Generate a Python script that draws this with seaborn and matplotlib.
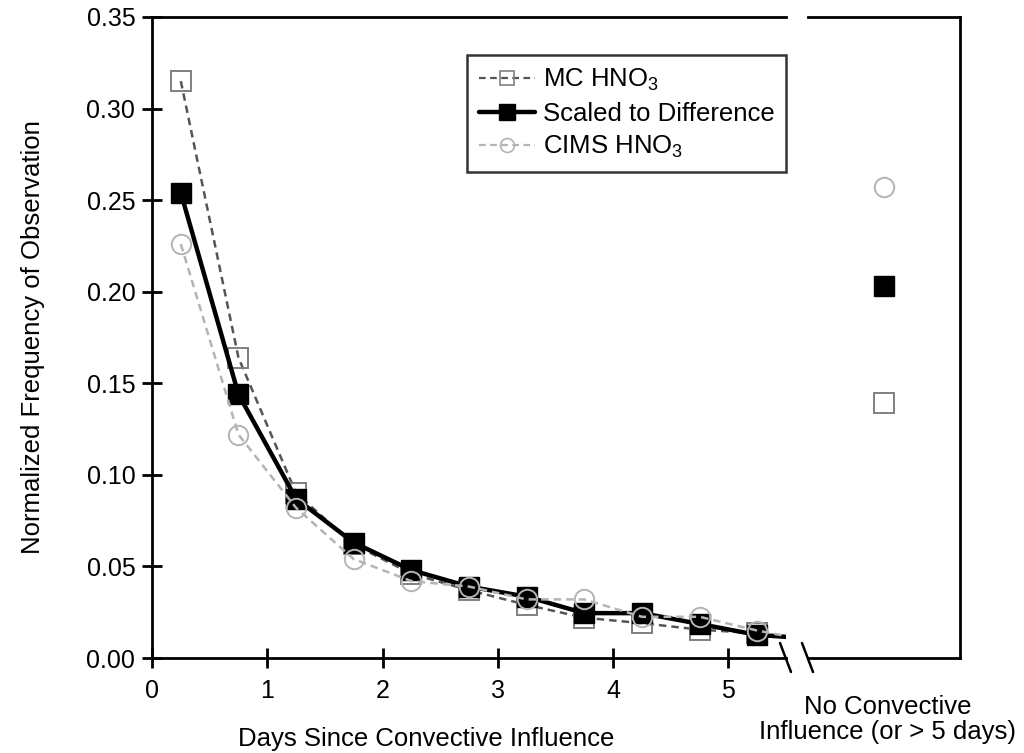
import numpy as np
import pandas as pd
import matplotlib
matplotlib.use("Agg")
import matplotlib.pyplot as plt
from matplotlib.lines import Line2D
import seaborn as sns

# Day bins (bin centres); the last bin lies beyond the plotted range
days = [0.25, 0.75, 1.25, 1.75, 2.25, 2.75, 3.25, 3.75, 4.25, 4.75, 5.25, 5.75]

mc_hno3 = [0.315, 0.164, 0.090, 0.062, 0.046, 0.037, 0.029, 0.022, 0.019, 0.0155, 0.0135, 0.0100]
scaled_diff = [0.254, 0.144, 0.087, 0.063, 0.048, 0.039, 0.0335, 0.0245, 0.0245, 0.0186, 0.0126, 0.0105]
cims_hno3 = [0.226, 0.122, 0.082, 0.054, 0.042, 0.039, 0.032, 0.032, 0.0225, 0.0225, 0.015, 0.0090]

# Air masses with no convective influence (or > 5 days)
nci_mc = 0.139
nci_scaled = 0.203
nci_cims = 0.257

y_ticks = [0.00, 0.05, 0.10, 0.15, 0.20, 0.25, 0.30, 0.35]
x_ticks = [0, 1, 2, 3, 4, 5]

sns.set_theme(style="white")
plt.rcParams["font.family"] = ["Liberation Sans", "DejaVu Sans"]
plt.rcParams["mathtext.fontset"] = "custom"
plt.rcParams["mathtext.rm"] = "Liberation Sans"
plt.rcParams["mathtext.it"] = "Liberation Sans"
plt.rcParams["mathtext.default"] = "regular"
plt.rcParams["text.color"] = "black"
plt.rcParams["axes.labelcolor"] = "black"

FS = 18.5

fig = plt.figure(figsize=(10.24, 7.53), dpi=100)
ax1 = fig.add_axes([152 / 1024, 1 - 658 / 753, (786 - 152) / 1024, (658 - 17) / 753])
ax2 = fig.add_axes([808 / 1024, 1 - 658 / 753, (960 - 808) / 1024, (658 - 17) / 753])

df = pd.DataFrame({"days": days, "mc": mc_hno3, "scaled": scaled_diff, "cims": cims_hno3})

mc_col, mc_line = "#808080", "#555555"
cims_col = "#b4b4b4"
ms = 14

sns.lineplot(data=df, x="days", y="mc", ax=ax1, color=mc_line, lw=1.8,
             linestyle=(0, (3, 2)), marker="s", markersize=ms,
             markerfacecolor="none", markeredgecolor=mc_col, markeredgewidth=1.4)
sns.lineplot(data=df, x="days", y="scaled", ax=ax1, color="black", lw=3.2,
             marker="s", markersize=ms, markerfacecolor="black",
             markeredgecolor="black", markeredgewidth=1.0)
sns.lineplot(data=df, x="days", y="cims", ax=ax1, color=cims_col, lw=1.8,
             linestyle=(0, (3, 2)), marker="o", markersize=ms,
             markerfacecolor="none", markeredgecolor=cims_col, markeredgewidth=1.4)

nci = pd.DataFrame({"x": [1, 1, 1], "y": [nci_mc, nci_scaled, nci_cims]})
ax2.plot(nci["x"][0], nci["y"][0], marker="s", ms=ms, mfc="none", mec=mc_col, mew=1.4)
ax2.plot(nci["x"][1], nci["y"][1], marker="s", ms=ms, mfc="black", mec="black")
ax2.plot(nci["x"][2], nci["y"][2], marker="o", ms=ms, mfc="none", mec=cims_col, mew=1.4)

for ax in (ax1, ax2):
    ax.set_ylim(0, 0.35)
    for s in ax.spines.values():
        s.set_color("black")
        s.set_linewidth(2.0)

ax1.set_xlim(0, 5.5)
ax1.set_xticks(x_ticks)
ax1.set_yticks(y_ticks)
ax1.set_yticklabels([f"{v:.2f}" for v in y_ticks])
ax1.tick_params(axis="both", which="major", direction="inout", length=14, width=2.0,
                labelsize=18, colors="black", labelcolor="black", pad=5,
                bottom=True, left=True, top=False, right=False)
ax1.tick_params(axis="x", pad=8)
ax1.spines["right"].set_visible(False)
ax1.set_xlabel("Days Since Convective Influence", fontsize=FS)
ax1.set_ylabel("Normalized Frequency of Observation", fontsize=FS)
ax1.xaxis.set_label_coords(0.432, -0.108)
ax1.yaxis.set_label_coords(-0.168, 0.5)

ax2.set_xlim(0, 2)
ax2.set_xticks([])
ax2.set_yticks([])
ax2.spines["left"].set_visible(False)
ax2.set_xlabel("No Convective\nInfluence (or > 5 days)", fontsize=FS, linespacing=1.05)
ax2.xaxis.set_label_coords(0.526, -0.058)

# axis break marks
for x0 in (780, 802):
    fig.add_artist(Line2D([x0 / 1024, (x0 + 11) / 1024],
                          [1 - 643 / 753, 1 - 672 / 753],
                          color="black", lw=1.8, transform=fig.transFigure))

handles = [
    Line2D([], [], color=mc_line, lw=1.6, ls=(0, (3, 2)), marker="s", ms=10,
           mfc="none", mec=mc_col, mew=1.2),
    Line2D([], [], color="black", lw=3.2, marker="s", ms=11, mfc="black", mec="black"),
    Line2D([], [], color=cims_col, lw=1.6, ls=(0, (3, 2)), marker="o", ms=10,
           mfc="none", mec=cims_col, mew=1.2),
]
labels = ["MC HNO$_3$", "Scaled to Difference", "CIMS HNO$_3$"]
leg = ax1.legend(handles, labels, loc="upper left", bbox_to_anchor=(0.497, 0.94),
                 fontsize=FS, frameon=True, fancybox=False, handlelength=2.2,
                 handletextpad=0.3, borderpad=0.45, labelspacing=0.33,
                 borderaxespad=0.0)
leg.get_frame().set_edgecolor("black")
leg.get_frame().set_linewidth(1.8)

fig.savefig("out.png", dpi=100)
